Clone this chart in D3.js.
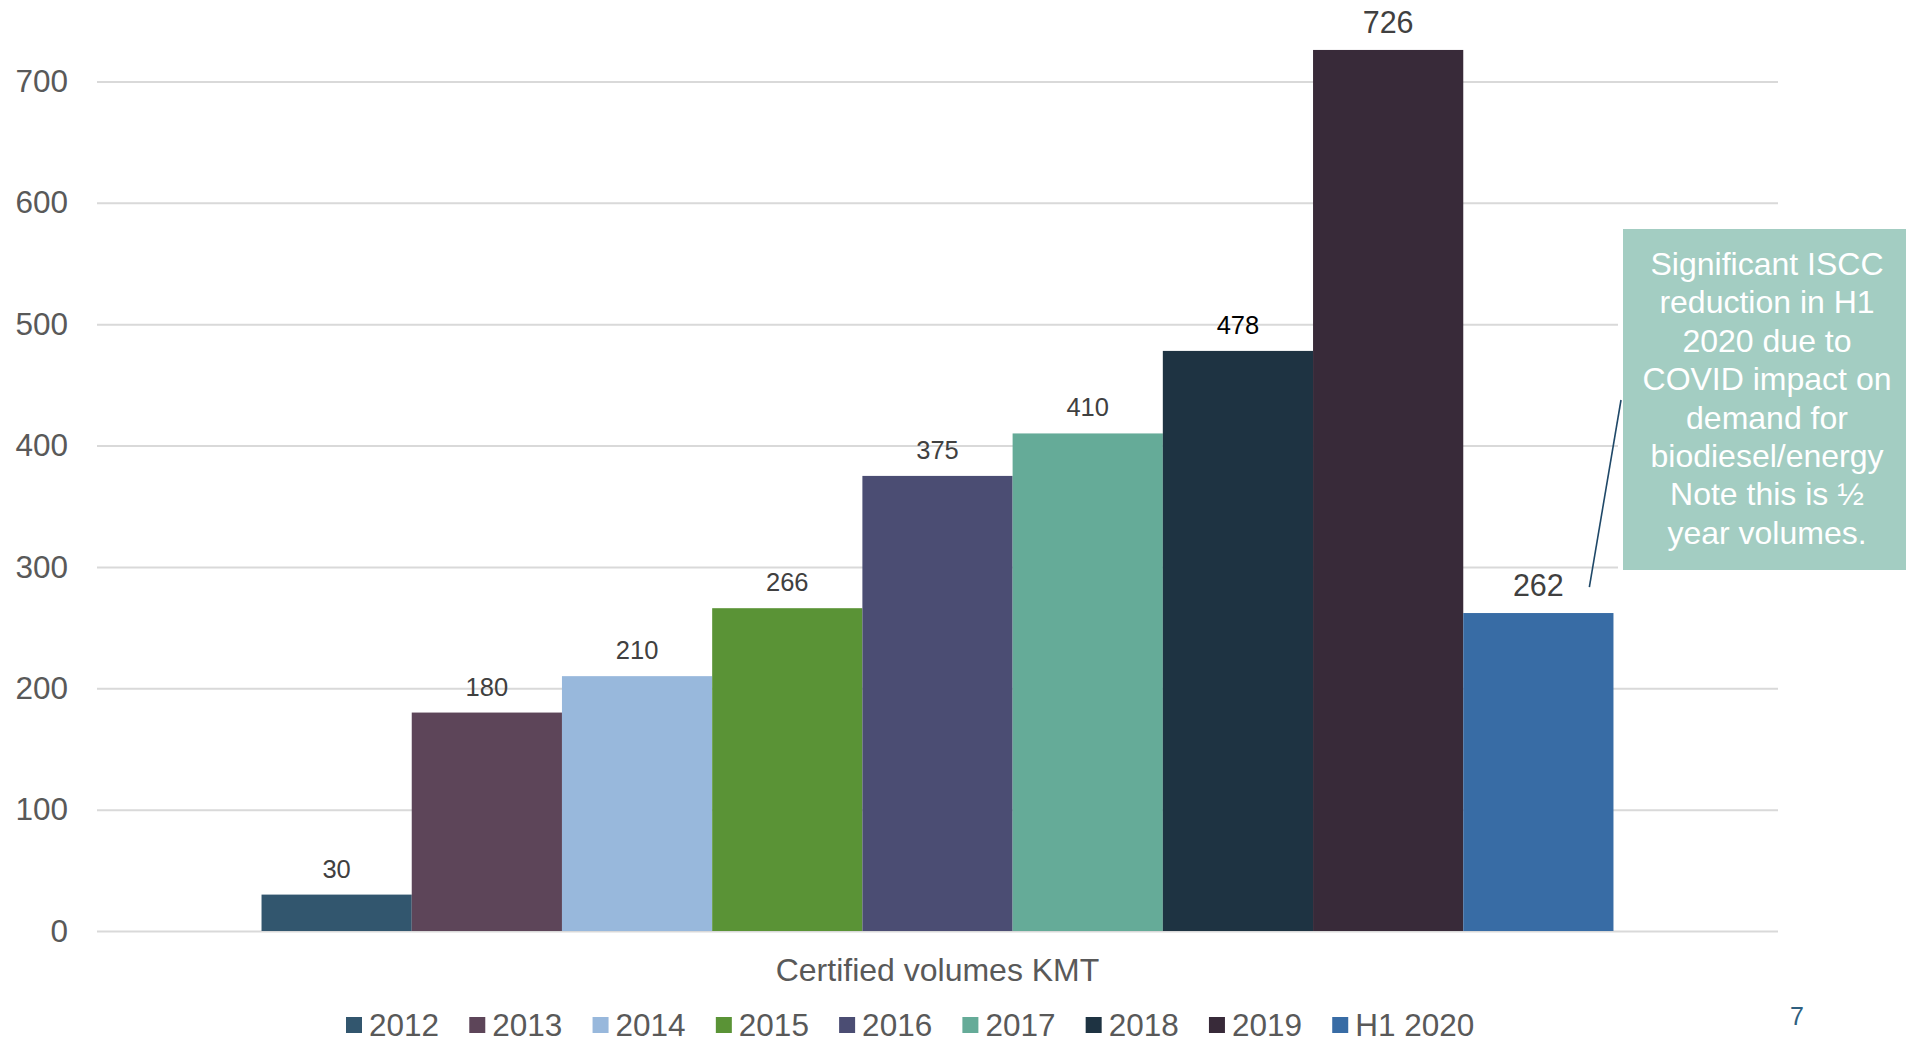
<!DOCTYPE html>
<html>
<head>
<meta charset="utf-8">
<script src="https://cdn.jsdelivr.net/npm/d3@7"></script>
<style>
  body { margin: 0; background: #fff; }
  svg { display: block; font-family: "Liberation Sans", Arial, sans-serif; }
</style>
</head>
<body>
<div id="chart"></div>
<script>
// data
const categories = ['Certified volumes KMT']
const years = ['2012', '2013', '2014', '2015', '2016', '2017', '2018', '2019', 'H1 2020']
const volumes = [30, 180, 210, 266, 375, 410, 478, 726, 262]
const yTicks = [0, 100, 200, 300, 400, 500, 600, 700]
const colors = ['#32566e', '#5d4559', '#98b8dc', '#5a9336', '#4b4d73', '#65ab98', '#1e3342', '#382a39', '#386ca5']
const noteLines = [
  'Significant ISCC',
  'reduction in H1',
  '2020 due to',
  'COVID impact on',
  'demand for',
  'biodiesel/energy',
  'Note this is \u00bd',
  'year volumes.'
]
const pageNumber = '7'

const width = 1906
const height = 1042
const left = 97
const right = 1778

const svg = d3.select('#chart')
  .append('svg')
  .attr('width', width)
  .attr('height', height)

const y = d3.scaleLinear()
  .domain([0, 700])
  .range([931, 81.5])

const x0 = d3.scaleBand()
  .domain(categories)
  .range([left, right])
  .paddingInner(0)
  .paddingOuter(0.1217)

const x1 = d3.scaleBand()
  .domain(years)
  .range([0, x0.bandwidth()])
  .padding(0)

const color = d3.scaleOrdinal().domain(years).range(colors)

// gridlines + tick labels
const yAxis = svg.append('g')
  .attr('transform', `translate(${left},0)`)
  .call(d3.axisLeft(y)
    .tickValues(yTicks)
    .tickSize(-(right - left))
    .tickPadding(29)
    .tickFormat(d3.format('d')))

yAxis.select('.domain').remove()
yAxis.selectAll('.tick line')
  .attr('stroke', '#d9d9d9')
  .attr('stroke-width', 2)
yAxis.selectAll('.tick text')
  .attr('fill', '#595959')
  .style('font-size', '31.5px')
  .style('font-family', '"Liberation Sans", Arial, sans-serif')

const rows = years.map((yr, i) => ({ year: yr, value: volumes[i] }))

const group = svg.append('g')
  .attr('transform', `translate(${x0(categories[0])},0)`)

group.selectAll('rect')
  .data(rows)
  .join('rect')
  .attr('x', d => x1(d.year))
  .attr('y', d => y(d.value))
  .attr('width', x1.bandwidth())
  .attr('height', d => y(0) - y(d.value))
  .attr('fill', d => color(d.year))

// data labels (the last two are bigger, 2018 is black on the slide)
const bigLabel = d => d.year === '2019' || d.year === 'H1 2020'
group.selectAll('text.val')
  .data(rows)
  .join('text')
  .attr('class', 'val')
  .attr('x', d => x1(d.year) + x1.bandwidth() / 2)
  .attr('y', d => y(d.value) - 17)
  .attr('text-anchor', 'middle')
  .attr('fill', d => d.year === '2018' ? '#000' : '#404040')
  .style('font-size', d => bigLabel(d) ? '30.5px' : '25.5px')
  .text(d => d.value)

// category title under the axis
svg.append('text')
  .attr('x', x0(categories[0]) + x0.bandwidth() / 2)
  .attr('y', 981)
  .attr('text-anchor', 'middle')
  .attr('fill', '#595959')
  .style('font-size', '32px')
  .text(categories[0])

// legend
const legend = svg.append('g').attr('transform', 'translate(346,0)')
let lx = 0
years.forEach((yr, i) => {
  const item = legend.append('g').attr('transform', `translate(${lx},0)`)
  item.append('rect')
    .attr('x', 0)
    .attr('y', 1017)
    .attr('width', 16)
    .attr('height', 16)
    .attr('fill', color(yr))
  const t = item.append('text')
    .attr('x', 23)
    .attr('y', 1036)
    .attr('fill', '#595959')
    .style('font-size', '31.5px')
    .text(yr)
  lx += 23 + t.node().getComputedTextLength() + 30.2
})

// callout for the H1 2020 bar
const h1 = rows[rows.length - 1]
const h1x = x0(categories[0]) + x1(h1.year) + x1.bandwidth() / 2

svg.append('rect')
  .attr('x', 1618)
  .attr('y', 224)
  .attr('width', 300)
  .attr('height', 351)
  .attr('fill', '#fff')

svg.append('line')
  .attr('x1', h1x + 51)
  .attr('y1', y(h1.value) - 26)
  .attr('x2', 1621)
  .attr('y2', 400)
  .attr('stroke', '#1f4868')
  .attr('stroke-width', 1.6)

svg.append('rect')
  .attr('x', 1623)
  .attr('y', 229)
  .attr('width', 290)
  .attr('height', 341)
  .attr('fill', '#a3cdc2')

svg.append('g')
  .selectAll('text')
  .data(noteLines)
  .join('text')
  .attr('x', 1767)
  .attr('y', (d, i) => 275 + i * 38.4)
  .attr('text-anchor', 'middle')
  .attr('fill', '#fff')
  .style('font-size', '32px')
  .text(d => d)

svg.append('text')
  .attr('x', 1797)
  .attr('y', 1025)
  .attr('text-anchor', 'middle')
  .attr('fill', '#2f5f7f')
  .style('font-size', '25px')
  .text(pageNumber)
</script>
</body>
</html>
